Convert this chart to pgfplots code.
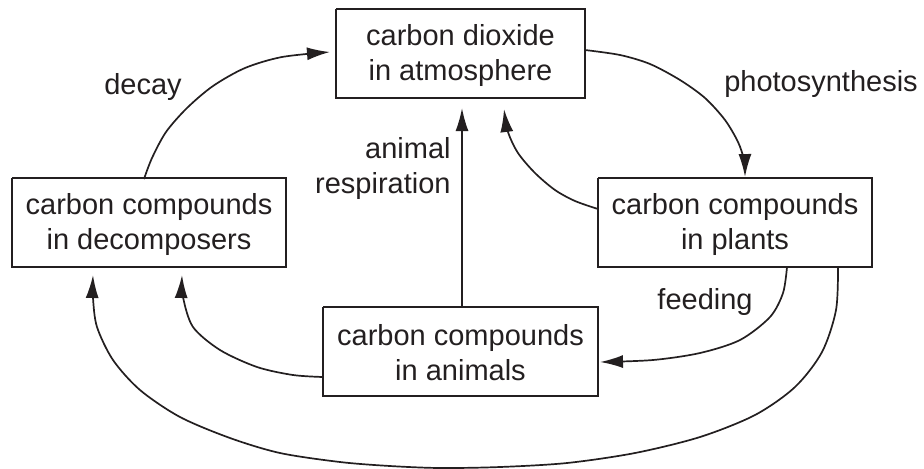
\documentclass[border=0pt]{standalone}
\usepackage{pgfplots}
\pgfplotsset{compat=1.18}
\usepackage{fontspec}
\setmainfont{Liberation Sans}
\usetikzlibrary{arrows.meta}
\definecolor{ink}{HTML}{231F20}
\begin{document}
\begin{tikzpicture}[
  box/.style={line width=1pt,line join=miter,sharp plot,mark=none},
  arr/.style={line width=0.85pt,smooth,mark=none,-{Latex[length=11.5pt,width=6.5pt]}},
  lab/.style={font=\fontsize{14.5}{17.5}\selectfont,text=ink,inner sep=0pt,align=center}]
\begin{axis}[width=462pt,height=234pt,scale only axis,
  xmin=0,xmax=924,ymin=0,ymax=468,y dir=reverse,hide axis,clip=false,
  every axis plot/.append style={ink}]
\addplot[draw=none] coordinates {(0,0) (924,468)};
% boxes
\addplot[box] coordinates {(336,9) (585,9) (585,98) (336,98) (336,9)};
\addplot[box] coordinates {(12,178) (286,178) (286,267) (12,267) (12,178)};
\addplot[box] coordinates {(598,178) (872,178) (872,267) (598,267) (598,178)};
\addplot[box] coordinates {(323,307) (598,307) (598,396) (323,396) (323,307)};
% arrows
\addplot[arr] coordinates {(144,179) (152,158) (166,132) (187,108) (213,86) (245,68) (282,57) (330,52)};
\addplot[arr] coordinates {(585,50) (620,55) (650,64) (680,80) (705,98) (725,120) (738,142) (744,160) (745,177)};
\addplot[arr] coordinates {(598,209) (575,201) (555,190) (535,173) (518,153) (508,132) (504,109)};
\addplot[line width=0.85pt,sharp plot,mark=none,-{Latex[length=11.5pt,width=6.5pt]}] coordinates {(462,307) (462,108)};
\addplot[arr] coordinates {(787,267) (783,293) (770,317) (740,340) (700,353) (653,360) (600,362)};
\addplot[arr] coordinates {(323,377) (293,375) (257,367) (220,350) (193,327) (183,297) (182,275)};
\addplot[arr] coordinates {(838,267) (836,310) (822,352) (795,387) (755,415) (700,437) (635,453) (567,463) (500,467) (440,468) (390,466) (340,462) (280,453) (230,438) (180,417) (140,390) (113,360) (97,327) (93,298) (93,275)};
% labels
\node[lab] at (axis cs:460.5,55) {carbon dioxide\\in atmosphere};
\node[lab] at (axis cs:149,224) {carbon compounds\\in decomposers};
\node[lab] at (axis cs:735,224) {carbon compounds\\in plants};
\node[lab] at (axis cs:460.5,353) {carbon compounds\\in animals};
\node[lab] at (axis cs:143,87) {decay};
\node[lab] at (axis cs:821,84) {photosynthesis};
\node[lab,align=right,anchor=east] at (axis cs:451,168) {animal\\respiration};
\node[lab] at (axis cs:705,302) {feeding};
\end{axis}
\end{tikzpicture}
\end{document}
